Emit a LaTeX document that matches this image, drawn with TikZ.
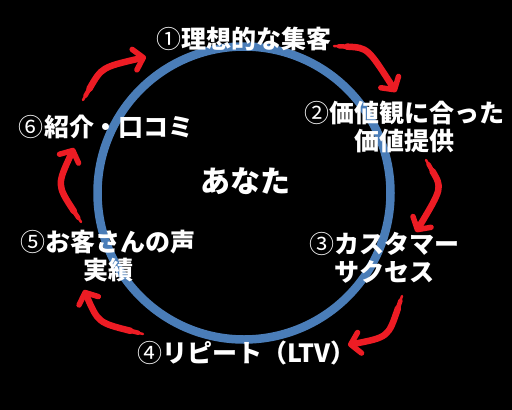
\documentclass[tikz,border=0pt]{standalone}
\usepackage{fontspec}
\newfontfamily\jp{Noto Sans CJK JP}
\usetikzlibrary{arrows.meta}
\definecolor{ringblue}{HTML}{4A7DB8}
\definecolor{arrowred}{HTML}{ED1C24}
\newcommand\cnum[1]{{\mdseries #1}}
\newcommand\redarrow[3]{%
  \draw[arrowred, line width=2.5pt, line cap=round, shorten >=7pt] (#1) .. controls (#2) .. (#3);
  \draw[arrowred, line width=4.5pt, line cap=round, shorten <=5pt, shorten >=7pt] (#1) .. controls (#2) .. (#3);
  \draw[arrowred, line width=6.5pt, line cap=round, shorten <=13pt,
        -{Straight Barb[length=9pt,width=21pt,line width=5.5pt,round]}] (#1) .. controls (#2) .. (#3);
}
\begin{document}
\begin{tikzpicture}[x=1pt,y=-1pt,
  lbl/.style={text=white,font=\jp\bfseries\fontsize{25}{28}\selectfont,align=center,inner sep=0pt},
  center/.style={text=white,font=\jp\bfseries\fontsize{30}{34}\selectfont,inner sep=0pt}]
\fill[black] (0,0) rectangle (512,410);
\useasboundingbox (0,0) rectangle (512,410);
\node[circle, draw=ringblue, line width=8.5pt, minimum size=293pt, inner sep=0pt, outer sep=0pt] (ring) at (244,193) {};
\node[center] (you) at (245,181) {あなた};
\node[lbl] (s1) at (244,39) {\cnum{①}理想的な集客};
\node[lbl] (s2) at (404,127) {\cnum{②}価値観に合った\\価値提供};
\node[lbl] (s3) at (384,258) {\cnum{③}カスタマー\\サクセス};
\node[lbl, anchor=west] (s4) at (137,353) {\cnum{④}リピート（LTV）};
\node[lbl] (s5) at (108,256) {\cnum{⑤}お客さんの声\\実績};
\node[lbl] (s6) at (106.5,127) {\cnum{⑥}紹介・口コミ};
% arrow ends
\coordinate (a1s) at (334,46);  \coordinate (a1c) at (367.7,47.7); \coordinate (a1e) at (396,92);
\coordinate (a2s) at (426,160); \coordinate (a2c) at (442.3,188);  \coordinate (a2e) at (416,232);
\coordinate (a3s) at (402,296); \coordinate (a3c) at (388.3,337.2);\coordinate (a3e) at (348,345);
\coordinate (a4s) at (143,334); \coordinate (a4c) at (98.2,322.7); \coordinate (a4e) at (84,290);
\coordinate (a5s) at (81,222);  \coordinate (a5c) at (56.8,185);   \coordinate (a5e) at (74,148);
\coordinate (a6s) at (83,100);  \coordinate (a6c) at (101.8,67.2); \coordinate (a6e) at (146,57);
\redarrow{a1s}{a1c}{a1e}
\redarrow{a2s}{a2c}{a2e}
\redarrow{a3s}{a3c}{a3e}
\redarrow{a4s}{a4c}{a4e}
\redarrow{a5s}{a5c}{a5e}
\redarrow{a6s}{a6c}{a6e}
\end{tikzpicture}
\end{document}
